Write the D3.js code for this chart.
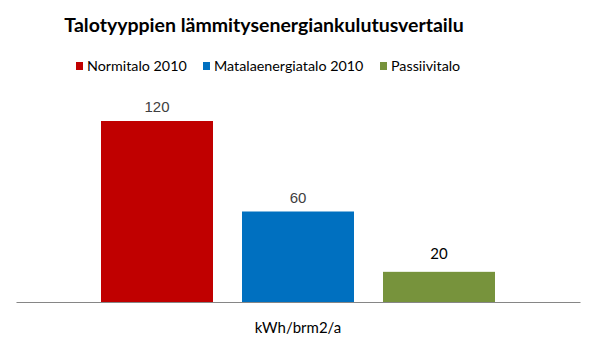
<!DOCTYPE html>
<html><head><meta charset="utf-8">
<script src="https://cdn.jsdelivr.net/npm/d3@7"></script>
<style>body{margin:0;background:#fff}svg{display:block}</style>
</head><body>
<script>
const title = "Talotyyppien lämmitysenergiankulutusvertailu";
const categories = ["kWh/brm2/a"];
const seriesNames = ["Normitalo 2010", "Matalaenergiatalo 2010", "Passiivitalo"];
const seriesValues = [120, 60, 20];
const seriesColors = ["#C00000", "#0070C0", "#77933C"];

const W = 591, H = 351;
const svg = d3.select("body").append("svg").attr("width", W).attr("height", H);
const font = "Lato, 'Open Sans', sans-serif";

const x0 = d3.scaleBand().domain(categories).range([16, 580]).paddingInner(0).paddingOuter(85/394);
const x1 = d3.scaleBand().domain(seriesNames).range([0, x0.bandwidth()]).paddingInner(29/141).paddingOuter(0);
const y = d3.scaleLinear().domain([0, 120]).range([302, 121]);

svg.append("text").attr("x", 264).attr("y", 32).attr("text-anchor", "middle")
  .style("font-family", font).style("font-weight", "bold").style("font-size", "19.5px").attr("fill", "#000").text(title);

// legend
const legX = [76, 203, 380];
const leg = svg.append("g");
seriesNames.forEach((s, i) => {
  leg.append("rect").attr("x", legX[i]).attr("y", 62).attr("width", 7).attr("height", 8).attr("fill", seriesColors[i]);
  leg.append("text").attr("x", legX[i] + 11).attr("y", 70.5).style("font-family", font).style("font-size", "14.3px").attr("fill", "#000").text(s);
});

const g = svg.append("g").attr("transform", `translate(${x0(categories[0])},0)`);
g.selectAll("rect.bar").data(seriesNames).join("rect").attr("class", "bar")
  .attr("x", d => x1(d)).attr("width", x1.bandwidth())
  .attr("y", (d, i) => y(seriesValues[i])).attr("height", (d, i) => y(0) - y(seriesValues[i]))
  .attr("fill", (d, i) => seriesColors[i]);

g.selectAll("text.lbl").data(seriesNames).join("text").attr("class", "lbl")
  .attr("x", d => x1(d) + x1.bandwidth() / 2).attr("y", (d, i) => y(seriesValues[i]) - (i < 2 ? 9 : 13))
  .attr("text-anchor", "middle")
  .style("font-family", (d, i) => i < 2 ? "'Liberation Sans', Arial, sans-serif" : font)
  .style("font-size", "15px")
  .attr("fill", (d, i) => i < 2 ? "#404040" : "#000")
  .text((d, i) => seriesValues[i]);

// x axis
const xAxis = d3.axisBottom(x0).tickSize(0).tickPadding(20);
const ax = svg.append("g").attr("transform", `translate(0,${y(0)})`).call(xAxis);
ax.select(".domain").attr("stroke", "#868686").attr("stroke-width", 1.2);
ax.selectAll("text").style("font-family", font).style("font-size", "15px").attr("fill", "#000");
</script>
</body></html>
